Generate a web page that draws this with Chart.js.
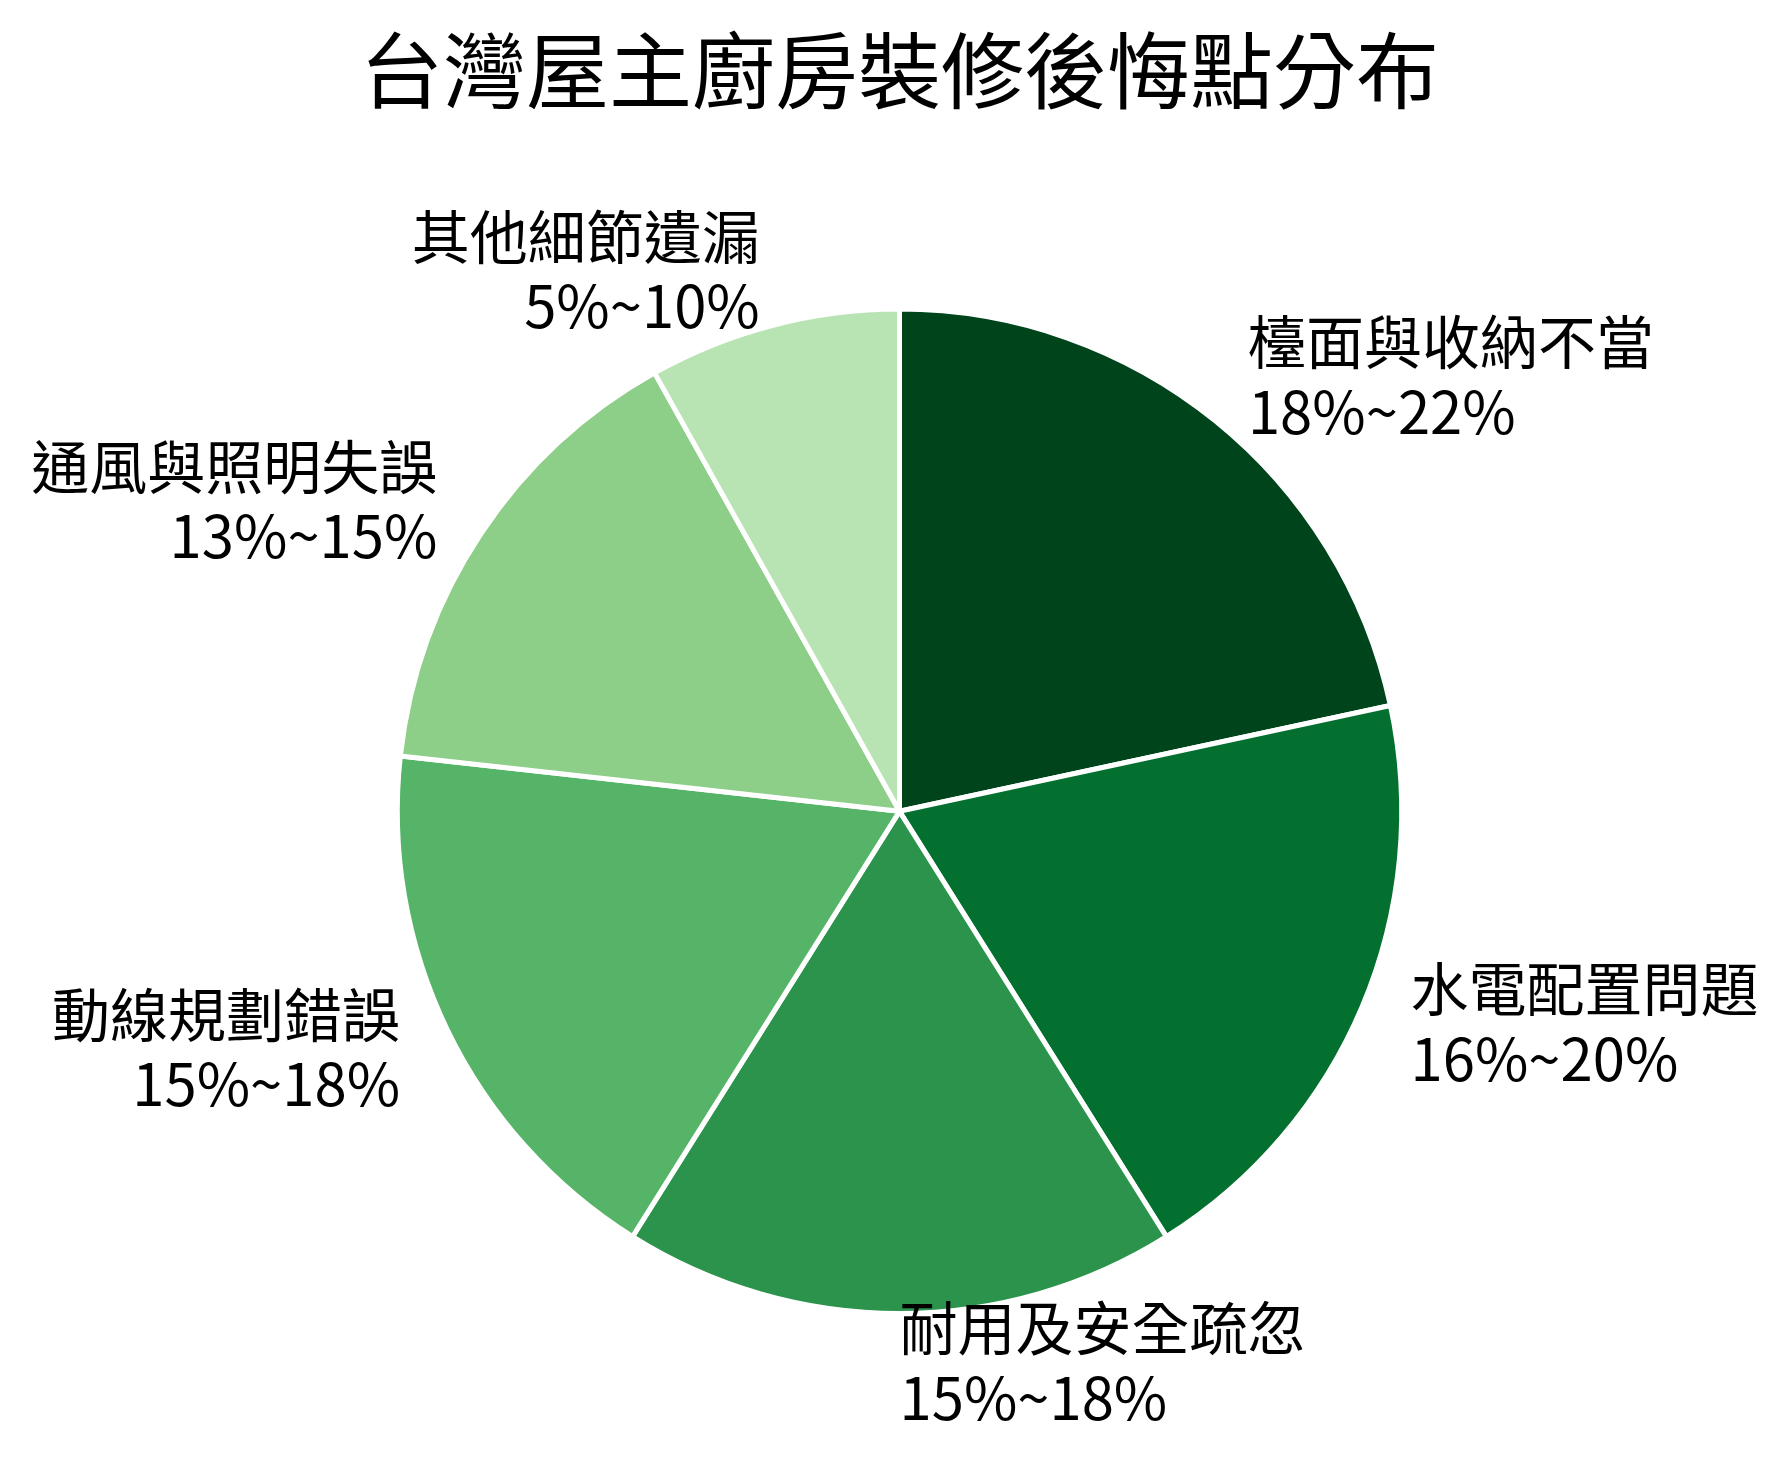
<!DOCTYPE html>
<html lang="zh-Hant">
<head>
<meta charset="utf-8">
<title>台灣屋主廚房裝修後悔點分布</title>
<script src="https://cdn.jsdelivr.net/npm/chart.js@4/dist/chart.umd.min.js"></script>
<style>
  html, body { margin: 0; padding: 0; background: #ffffff; }
  #wrap { width: 1789px; height: 1468px; position: relative; }
</style>
</head>
<body>
<div id="wrap"><canvas id="regret-pie"></canvas></div>
<script>
// categories and the reported ranges (slice size = middle of each range)
const categories = ['檯面與收納不當', '水電配置問題', '耐用及安全疏忽', '動線規劃錯誤', '通風與照明失誤', '其他細節遺漏'];
const rangeLabels = ['18%~22%', '16%~20%', '15%~18%', '15%~18%', '13%~15%', '5%~10%'];
const shares = [20, 18, 16.5, 16.5, 14, 7.5];
const sliceColors = ['#00441b', '#04702f', '#2b934b', '#56b468', '#8dce88', '#b8e3b2'];

const FONT = "'Noto Sans CJK TC', 'Noto Sans CJK SC', 'Noto Sans', sans-serif";
const LABEL_SIZE = 58;

// draws "name / range" outside each slice, like matplotlib's labeldistance=1.1
const outsideLabels = {
  id: 'outsideLabels',
  afterDatasetsDraw(chart) {
    const { ctx } = chart;
    const meta = chart.getDatasetMeta(0);
    ctx.save();
    ctx.font = LABEL_SIZE + 'px ' + FONT;
    ctx.fillStyle = '#000000';
    ctx.textBaseline = 'middle';
    meta.data.forEach((arc, i) => {
      const { x, y, startAngle, endAngle, outerRadius } = arc.getProps(
        ['x', 'y', 'startAngle', 'endAngle', 'outerRadius'], true);
      const mid = (startAngle + endAngle) / 2;
      const r = (outerRadius + 2) * 1.1;
      const lx = x + r * Math.cos(mid);
      const ly = y + r * Math.sin(mid);
      ctx.textAlign = Math.cos(mid) > -1e-9 ? 'left' : 'right';
      const step = LABEL_SIZE * 1.2;
      ctx.fillText(categories[i], lx, ly - step / 2 - 3);
      ctx.fillText(rangeLabels[i], lx, ly + step / 2 - 3);
    });
    ctx.restore();
  }
};

const ctxPie = document.getElementById('regret-pie').getContext('2d');
const regretPie = new Chart(ctxPie, {
  type: 'pie',
  data: {
    labels: categories,
    datasets: [{
      data: shares,
      backgroundColor: sliceColors,
      borderColor: '#ffffff',
      borderWidth: 5,
    }],
  },
  options: {
    responsive: true,
    maintainAspectRatio: false,
    animation: false,
    layout: {
      padding: { left: 10, right: 0, top: 0, bottom: 152 },
    },
    plugins: {
      legend: { display: false },
      tooltip: { enabled: false },
      title: {
        display: true,
        text: '台灣屋主廚房裝修後悔點分布',
        color: '#000000',
        font: { family: FONT, size: 83, weight: 'normal', lineHeight: 1.2 },
        padding: { top: 21, bottom: 186 },
      },
    },
  },
  plugins: [outsideLabels],
});
</script>
</body>
</html>
